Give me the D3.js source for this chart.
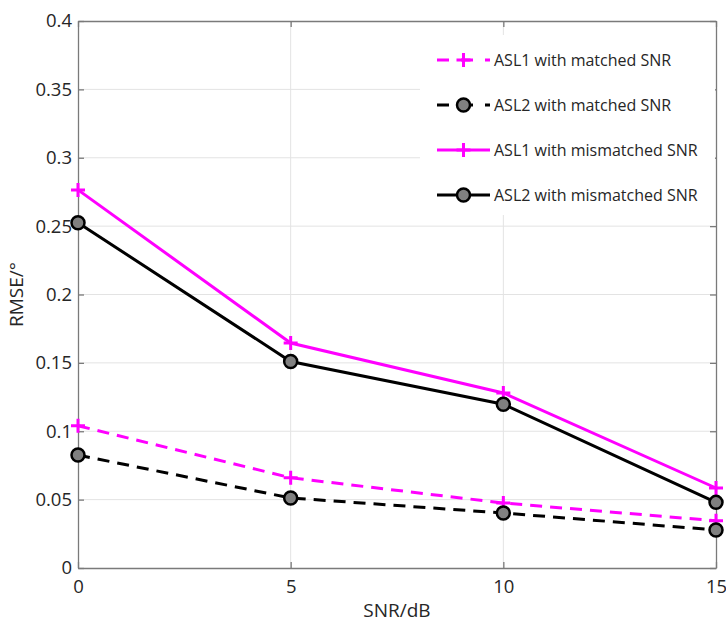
<!DOCTYPE html>
<html>
<head>
<meta charset="utf-8">
<script src="https://cdn.jsdelivr.net/npm/d3@7"></script>
<style>
  body { margin: 0; background: #fff; }
  text { font-family: "Open Sans", sans-serif; fill: #262626; }
</style>
</head>
<body>
<svg class="target"></svg>
<script>
// data
const snr = [0, 5, 10, 15];
const asl1Matched = [0.104, 0.066, 0.0475, 0.0345];
const asl2Matched = [0.0826, 0.0512, 0.0402, 0.0278];
const asl1Mismatched = [0.2765, 0.1645, 0.128, 0.0585];
const asl2Mismatched = [0.2525, 0.151, 0.1197, 0.048];
const xTicks = [0, 5, 10, 15];
const yTicks = [0, 0.05, 0.1, 0.15, 0.2, 0.25, 0.3, 0.35, 0.4];
const legendLabels = ["ASL1 with matched SNR", "ASL2 with matched SNR",
    "ASL1 with mismatched SNR", "ASL2 with mismatched SNR"];

const width = 726, height = 626;
const margin = {top: 21, right: 10, bottom: 58, left: 78};

const svg = d3.select(".target")
    .attr("width", width)
    .attr("height", height);

const x = d3.scaleLinear().domain([0, 15]).range([margin.left, width - margin.right]);
const y = d3.scaleLinear().domain([0, 0.4]).range([height - margin.bottom, margin.top]);

// grid
svg.append("g").selectAll("line").data(yTicks.slice(1, -1)).enter().append("line")
    .attr("x1", x(0)).attr("x2", x(15))
    .attr("y1", d => y(d)).attr("y2", d => y(d))
    .attr("stroke", "#e3e3e3").attr("stroke-width", 1);
svg.append("g").selectAll("line").data(xTicks.slice(1, -1)).enter().append("line")
    .attr("y1", y(0)).attr("y2", y(0.4))
    .attr("x1", d => x(d)).attr("x2", d => x(d))
    .attr("stroke", "#e3e3e3").attr("stroke-width", 1);

// axes
const axisColor = "#7a7a7a";
svg.append("g")
    .attr("transform", "translate(0," + y(0) + ")")
    .call(d3.axisBottom(x).tickValues(xTicks).tickSizeInner(-6).tickSizeOuter(0).tickPadding(12));
svg.append("g")
    .attr("transform", "translate(" + x(0) + ",0)")
    .call(d3.axisLeft(y).tickValues(yTicks).tickFormat(d => String(+d.toFixed(2))).tickSizeInner(-6).tickSizeOuter(0).tickPadding(6));
svg.append("g")
    .attr("transform", "translate(0," + y(0.4) + ")")
    .call(d3.axisTop(x).tickValues(xTicks).tickSizeInner(-6).tickSizeOuter(0).tickFormat(""));
svg.append("g")
    .attr("transform", "translate(" + x(15) + ",0)")
    .call(d3.axisRight(y).tickValues(yTicks).tickSizeInner(-6).tickSizeOuter(0).tickFormat(""));

svg.selectAll(".domain, .tick line").attr("stroke", axisColor).attr("stroke-width", 1.3);
svg.selectAll(".tick text").style("font-size", "18.5px").attr("fill", "#262626");

// axis titles
svg.append("text")
    .attr("x", (x(0) + x(15)) / 2).attr("y", 617)
    .attr("text-anchor", "middle").style("font-size", "19px")
    .text("SNR/dB");
svg.append("text")
    .attr("transform", "translate(23," + (y(0.2)) + ") rotate(-90)")
    .attr("text-anchor", "middle").style("font-size", "19px")
    .text("RMSE/°");

// series
const series = [
    {values: asl1Matched, color: "#ff00ff", dash: "12,8", marker: "plus"},
    {values: asl2Matched, color: "#000000", dash: "12,8", marker: "circle"},
    {values: asl1Mismatched, color: "#ff00ff", dash: null, marker: "plus"},
    {values: asl2Mismatched, color: "#000000", dash: null, marker: "circle"}
];

const line = d3.line().x(d => x(d[0])).y(d => y(d[1]));

function drawMarker(g, cx, cy, s) {
    if (s.marker === "plus") {
        g.append("path")
            .attr("d", `M${cx - 7},${cy}H${cx + 7}M${cx},${cy - 7}V${cy + 7}`)
            .attr("stroke", s.color).attr("stroke-width", 3).attr("fill", "none");
    } else {
        g.append("circle")
            .attr("cx", cx).attr("cy", cy).attr("r", 6.5)
            .attr("fill", "#808080").attr("stroke", "#000").attr("stroke-width", 2.5);
    }
}

const plot = svg.append("g");
series.forEach(s => {
    const pts = snr.map((v, i) => [v, s.values[i]]);
    plot.append("path")
        .datum(pts)
        .attr("d", line)
        .attr("fill", "none")
        .attr("stroke", s.color)
        .attr("stroke-width", 3)
        .attr("stroke-dasharray", s.dash);
    const mg = plot.append("g");
    pts.forEach(p => drawMarker(mg, x(p[0]), y(p[1]), s));
});

// legend
const legend = svg.append("g");
legend.append("rect")
    .attr("x", 420).attr("y", 35).attr("width", x(15) - 421).attr("height", 180)
    .attr("fill", "#fff");
legendLabels.forEach((label, i) => {
    const s = series[i];
    const ly = 60 + i * 45;
    legend.append("line")
        .attr("x1", 437).attr("x2", 490).attr("y1", ly).attr("y2", ly)
        .attr("stroke", s.color).attr("stroke-width", 3)
        .attr("stroke-dasharray", s.dash ? "12,12" : null);
    drawMarker(legend, 463.5, ly, s);
    legend.append("text")
        .attr("x", 494).attr("y", ly).attr("dy", "0.35em")
        .style("font-size", "16px")
        .text(label);
});
</script>
</body>
</html>
